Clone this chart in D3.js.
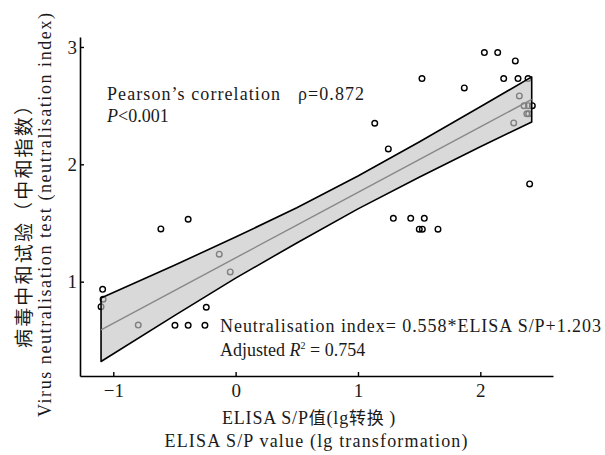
<!DOCTYPE html>
<html lang="zh">
<head>
<meta charset="UTF-8"/>
<title>ELISA vs neutralisation</title>
<script src="https://d3js.org/d3.v7.min.js"></script>
<style>
    body { margin: 0; background: #fff; }
    text { font-family: "Liberation Serif", "DejaVu Serif", serif; fill: #1a1a1a; }
    .cjk { font-family: "Noto Sans CJK SC", sans-serif; }
</style>
</head>
<body>
<script>
    // scatter points: ELISA S/P (lg) vs neutralisation index
    var elisaX = [-1.087, -1.083, -1.10, -0.796, -0.611, -0.388, -0.134, -0.044, -0.24,
                  -0.496, -0.388, -0.251, 1.137, 1.248, 1.289, 1.431, 1.542, 1.501, 1.526,
                  1.654, 1.523, 1.869, 2.033, 2.142, 2.286, 2.191, 2.308, 2.39, 2.319,
                  2.357, 2.393, 2.425, 2.38, 2.395, 2.273, 2.403];
    var neutY  = [0.935, 0.85, 0.787, 0.63, 1.449, 1.532, 1.234, 1.083, 0.782,
                  0.628, 0.628, 0.628, 2.35, 2.131, 1.54, 1.54, 1.54, 1.447, 1.447,
                  1.447, 2.731, 2.651, 2.952, 2.952, 2.881, 2.731, 2.731, 2.731, 2.583,
                  2.50, 2.50, 2.50, 2.43, 2.43, 2.353, 1.833];

    // fitted line and its confidence band
    var bandX     = [-1.1, -0.5, 0, 0.5, 1.0, 1.5, 2.0, 2.42];
    var bandFit   = [0.589, 0.924, 1.203, 1.482, 1.761, 2.040, 2.319, 2.553];
    var bandUpper = [0.86, 1.14, 1.38, 1.63, 1.90, 2.19, 2.49, 2.745];
    var bandLower = [0.32, 0.71, 1.03, 1.33, 1.62, 1.89, 2.15, 2.36];

    var xTicks = [-1, 0, 1, 2];
    var yTicks = [1, 2, 3];

    var w = 605, h = 455;

    var xScale = d3.scaleLinear().domain([-1.272, 2.594]).range([80, 553]);
    var yScale = d3.scaleLinear().domain([0.196, 3.085]).range([376, 37]);

    var svg = d3.select("body").append("svg")
        .attr("width", w)
        .attr("height", h);

    // points first, band is laid over them
    svg.selectAll("circle.pt")
        .data(elisaX)
        .enter()
        .append("circle")
        .attr("class", "pt")
        .attr("cx", function(d) { return xScale(d); })
        .attr("cy", function(d, i) { return yScale(neutY[i]); })
        .attr("r", 2.8)
        .attr("fill", "none")
        .attr("stroke", "#000")
        .attr("stroke-width", 1.4);

    var bandPts = bandX.map(function(d, i) { return [d, bandUpper[i], bandLower[i], bandFit[i]]; });

    var area = d3.area()
        .x(function(d) { return xScale(d[0]); })
        .y0(function(d) { return yScale(d[2]); })
        .y1(function(d) { return yScale(d[1]); })
        .curve(d3.curveMonotoneX);

    svg.append("path")
        .datum(bandPts)
        .attr("d", area)
        .attr("fill", "#c4c4c4")
        .attr("fill-opacity", 0.65)
        .attr("stroke", "none");

    // outline of band (closed, with vertical ends)
    var outline = bandPts.map(function(d) { return [d[0], d[1]]; })
        .concat(bandPts.slice().reverse().map(function(d) { return [d[0], d[2]]; }));
    svg.append("path")
        .attr("d", "M" + outline.map(function(d) { return xScale(d[0]) + "," + yScale(d[1]); }).join("L") + "Z")
        .attr("fill", "none")
        .attr("stroke", "#000")
        .attr("stroke-width", 1.6)
        .attr("stroke-linejoin", "round");

    svg.append("path")
        .datum(bandPts)
        .attr("d", d3.line()
            .x(function(d) { return xScale(d[0]); })
            .y(function(d) { return yScale(d[3]); }))
        .attr("fill", "none")
        .attr("stroke", "#888")
        .attr("stroke-width", 1.4);

    // axes, ticks pointing inward
    var xAxis = d3.axisBottom(xScale).tickValues(xTicks).tickSizeInner(-4).tickSizeOuter(0)
        .tickFormat(function(d) { return d < 0 ? "\u2212" + (-d) : String(d); });
    var yAxis = d3.axisLeft(yScale).tickValues(yTicks).tickSizeInner(-4).tickSizeOuter(0)
        .tickFormat(function(d) { return String(d); });

    var gx = svg.append("g").attr("transform", "translate(0,376)").call(xAxis);
    var gy = svg.append("g").attr("transform", "translate(80,0)").call(yAxis);

    [gx, gy].forEach(function(g) {
        g.attr("font-family", null).attr("font-size", null);
        g.select(".domain").attr("stroke", "#000").attr("stroke-width", 1.6);
        g.selectAll(".tick line").attr("stroke", "#000").attr("stroke-width", 1.4);
        g.selectAll(".tick text")
            .style("font-family", "'Liberation Serif', serif")
            .style("font-size", "19px")
            .attr("fill", "#1a1a1a");
    });
    gx.selectAll(".tick text").attr("y", 8).attr("dy", "0.71em");
    gy.selectAll(".tick text").attr("x", -3);

    // annotations
    svg.append("text").attr("x", 107).attr("y", 100).style("font-size", "18px")
        .attr("textLength", 173).attr("lengthAdjust", "spacing")
        .text("Pearson\u2019s correlation");
    svg.append("text").attr("x", 298).attr("y", 100).style("font-size", "18px")
        .attr("textLength", 66).attr("lengthAdjust", "spacing")
        .text("\u03c1=0.872");

    var pText = svg.append("text").attr("x", 107).attr("y", 122).style("font-size", "18px");
    pText.append("tspan").style("font-style", "italic").text("P");
    pText.append("tspan").text("<0.001");

    svg.append("text").attr("x", 220).attr("y", 332).style("font-size", "18px")
        .attr("textLength", 381).attr("lengthAdjust", "spacing")
        .text("Neutralisation index= 0.558*ELISA S/P+1.203");

    var rText = svg.append("text").attr("x", 220).attr("y", 356).style("font-size", "18px");
    rText.append("tspan").text("Adjusted ");
    rText.append("tspan").style("font-style", "italic").text("R");
    rText.append("tspan").attr("dy", -7).style("font-size", "10px").text("2");
    rText.append("tspan").attr("dy", 7).text(" = 0.754");

    // axis titles
    var xt = svg.append("text").attr("x", 222).attr("y", 424).style("font-size", "18px")
        .style("letter-spacing", "0.8px");
    xt.append("tspan").text("ELISA S/P");
    xt.append("tspan").attr("class", "cjk").style("font-size", "17px").text("值");
    xt.append("tspan").text("(lg");
    xt.append("tspan").attr("class", "cjk").style("font-size", "17px").text("转换 ");
    xt.append("tspan").text(")");

    svg.append("text").attr("x", 316).attr("y", 447).attr("text-anchor", "middle").style("font-size", "18px")
        .attr("textLength", 303).attr("lengthAdjust", "spacing")
        .text("ELISA S/P value (lg transformation)");

    svg.append("text").attr("class", "cjk")
        .attr("transform", "translate(31,222) rotate(-90)")
        .attr("text-anchor", "middle")
        .style("font-size", "19px")
        .attr("textLength", 252).attr("lengthAdjust", "spacing")
        .text("病毒中和试验（中和指数）");

    svg.append("text")
        .attr("transform", "translate(51,215) rotate(-90)")
        .attr("text-anchor", "middle")
        .style("font-size", "18px")
        .attr("textLength", 404).attr("lengthAdjust", "spacing")
        .text("Virus neutralisation test (neutralisation index)");
</script>
</body>
</html>
